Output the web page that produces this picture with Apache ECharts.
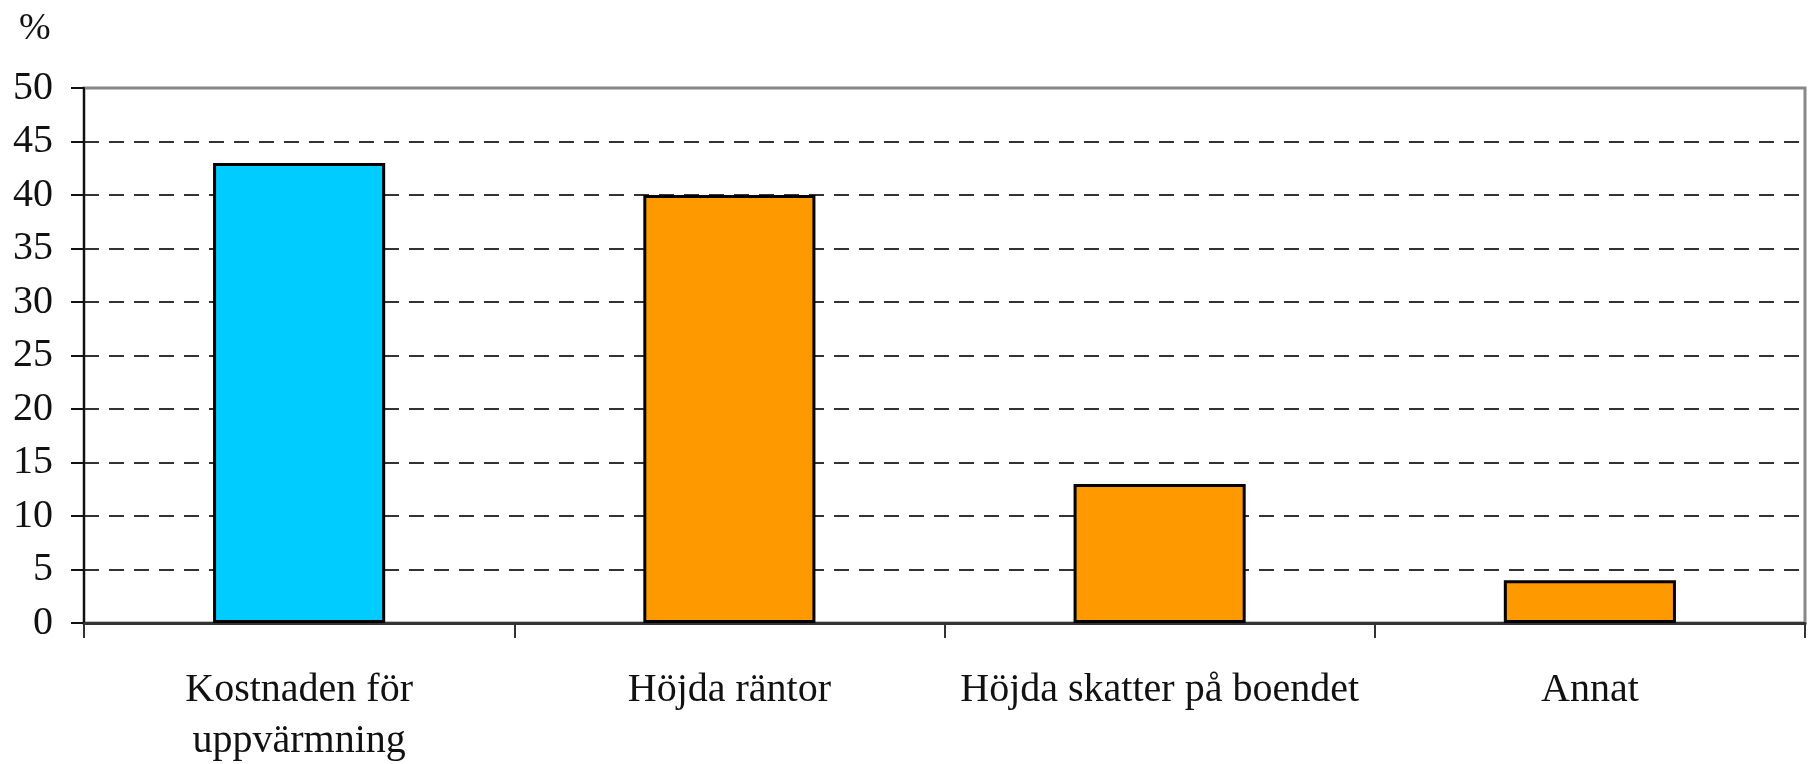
<!DOCTYPE html>
<html>
<head>
<meta charset="utf-8">
<script src="https://cdn.jsdelivr.net/npm/echarts@6/dist/echarts.min.js"></script>
<style>
  html, body { margin: 0; padding: 0; background: #fff; }
  #chart { width: 1813px; height: 764px; }
</style>
</head>
<body>
<div id="chart"></div>
<script>
// kategorier och värden (procent)
const categories = ["Kostnaden för\nuppvärmning", "Höjda räntor", "Höjda skatter på boendet", "Annat"];
const values = [43, 40, 13, 4];
const barColors = ["#00CCFF", "#FF9900", "#FF9900", "#FF9900"];
const yTicks = { min: 0, max: 50, interval: 5 };
const unitLabel = "%";

const font = "'Liberation Serif', 'Times New Roman', serif";

const chart = echarts.init(document.getElementById("chart"), null, { renderer: "canvas" });

const option = {
  backgroundColor: "#fff",
  animation: false,
  title: {
    text: unitLabel,
    left: 14,
    top: 5,
    textStyle: { fontFamily: font, fontSize: 38, fontWeight: "normal", color: "#111" },
  },
  grid: {
    left: 84,
    right: 8,
    top: 88,
    bottom: 141,
    outerBoundsMode: "none",
    containLabel: false,
    show: true,
    borderColor: "#888",
    borderWidth: 3,
  },
  xAxis: {
    type: "category",
    data: categories,
    axisLine: { lineStyle: { color: "#333", width: 3 } },
    axisTick: { show: true, length: 15, lineStyle: { color: "#333", width: 2 } },
    axisLabel: {
      interval: 0,
      margin: 42,
      fontFamily: font,
      fontSize: 40,
      lineHeight: 51,
      color: "#111",
    },
  },
  yAxis: {
    type: "value",
    min: yTicks.min,
    max: yTicks.max,
    interval: yTicks.interval,
    axisLine: { show: true, lineStyle: { color: "#111", width: 2 } },
    axisTick: { show: true, length: 13, lineStyle: { color: "#111", width: 2 } },
    axisLabel: {
      margin: 31,
      fontFamily: font,
      fontSize: 40,
      color: "#111",
    },
    splitLine: {
      show: true,
      showMaxLine: false,
      lineStyle: { color: "#333", width: 2, type: [15, 10] },
    },
  },
  series: [
    {
      type: "bar",
      barWidth: "40%",
      data: values.map((v, i) => ({
        value: v,
        itemStyle: { color: barColors[i] },
      })),
      itemStyle: { borderColor: "#000", borderWidth: 3 },
    },
  ],
};

chart.setOption(option);
</script>
</body>
</html>
